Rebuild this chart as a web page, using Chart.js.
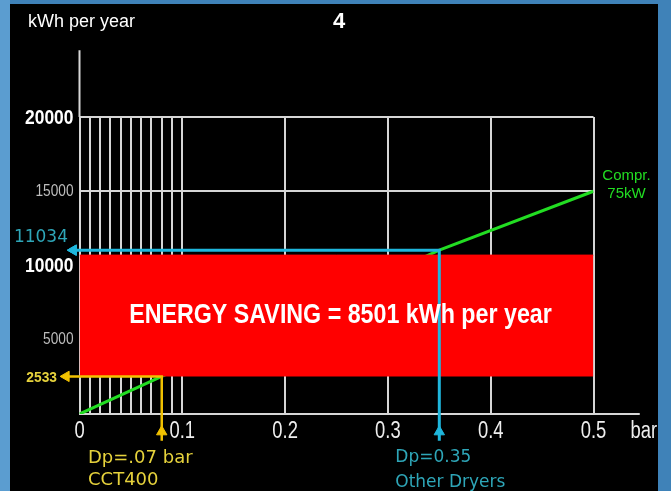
<!DOCTYPE html>
<html>
<head>
<meta charset="utf-8">
<title>Energy saving - kWh per year</title>
<script src="https://cdn.jsdelivr.net/npm/chart.js"></script>
<style>
    body {
        margin: 0;
        padding: 0;
        background: #3f82b8;
    }
    canvas { display: block; }
</style>
</head>
<body>
<canvas id="chart" width="671" height="491"></canvas>
<script>
    // ticks
    var xMajorTicks = [0, 0.1, 0.2, 0.3, 0.4, 0.5];
    var xMinorTicks = [0.01, 0.02, 0.03, 0.04, 0.05, 0.06, 0.07, 0.08, 0.09];
    var yTicks = [5000, 10000, 15000, 20000];

    // compressor 75kW line (middle part is hidden by the saving box)
    var comprLine = [
        {x: 0, y: 0},
        {x: 0.08, y: 2533},
        {x: 0.35, y: 11034},
        {x: 0.5, y: 15000}
    ];

    // other dryers: Dp = 0.35 bar -> 11034 kWh
    var otherDp = 0.35;
    var otherKwh = 11034;
    // CCT400: Dp = .07 bar -> 2533 kWh
    var cctDp = 0.08;
    var cctKwh = 2533;

    // saving box
    var savingX = [0, 0.5];
    var savingTop = 10700;
    var savingBottom = cctKwh;

    var sans = '"Liberation Sans", Arial, sans-serif';
    var plain = '"DejaVu Sans", sans-serif';
    var gridColor = '#d6d6d6';
    var cyan = '#1fb6dc';
    var cyanText = '#2ea6b8';
    var yellow = '#f2c200';
    var yellowText = '#e6d23c';
    var green = '#22dd22';

    // text squeezed horizontally (narrow font look)
    function drawText(c, text, x, y, font, color, align, sx) {
        c.save();
        c.font = font;
        c.fillStyle = color;
        c.textAlign = align;
        c.textBaseline = 'middle';
        c.translate(x, y);
        c.scale(sx || 1, 1);
        c.fillText(text, 0, 0);
        c.restore();
    }

    // background + axis extensions + texts
    var decor = {
        id: 'decor',
        beforeDraw: function (chart) {
            var c = chart.ctx;
            c.save();
            c.fillStyle = '#3f82b8';
            c.fillRect(0, 0, chart.width, chart.height);
            c.fillStyle = '#5b9dd0';
            c.fillRect(0, 0, 10, chart.height);
            c.fillStyle = '#000';
            c.fillRect(10, 4, 648, chart.height);
            c.restore();
        },
        beforeDatasetsDraw: function (chart) {
            var c = chart.ctx, xs = chart.scales.x, ys = chart.scales.y;
            c.save();
            c.strokeStyle = gridColor;
            c.lineWidth = 2;
            c.beginPath();
            c.moveTo(xs.getPixelForValue(0), ys.getPixelForValue(20000));
            c.lineTo(xs.getPixelForValue(0), ys.getPixelForValue(24500));
            c.moveTo(xs.getPixelForValue(0.5), ys.getPixelForValue(0));
            c.lineTo(xs.getPixelForValue(0.545), ys.getPixelForValue(0));
            c.stroke();
            c.restore();
        },
        afterDatasetsDraw: function (chart) {
            // arrow heads lie outside the chart area, Chart.js skips them there
            var full = {left: 0, top: 0, right: chart.width, bottom: chart.height};
            [2, 3].forEach(function (di) {
                chart.getDatasetMeta(di).data.forEach(function (pt) {
                    if (pt.options.radius > 0) pt.draw(chart.ctx, full);
                });
            });
        },
        afterDraw: function (chart) {
            var c = chart.ctx, xs = chart.scales.x, ys = chart.scales.y;

            // tick labels
            xs.ticks.forEach(function (t, i) {
                if (xMajorTicks.indexOf(t.value) < 0) return;
                drawText(c, String(t.value), xs.getPixelForTick(i), ys.bottom + 18,
                    '23px ' + sans, '#eee', 'center', 0.8);
            });
            ys.ticks.forEach(function (t, i) {
                var big = t.value % 10000 === 0;
                drawText(c, String(t.value), xs.left - 6, ys.getPixelForTick(i) + (big ? 1 : 0),
                    big ? 'bold 21px ' + sans : '16.5px ' + sans,
                    big ? '#fff' : '#bdbdbd', 'right', 0.83);
            });
            drawText(c, 'bar', xs.getPixelForValue(0.5) + 37, ys.bottom + 18, '23px ' + sans, '#eee', 'left', 0.8);

            drawText(c, 'kWh per year', 28, 22, '18px ' + sans, '#fff', 'left', 1);
            drawText(c, '4', 339, 22, 'bold 22px ' + sans, '#fff', 'center', 1);

            // saving text
            var cx = (xs.getPixelForValue(savingX[0]) + xs.getPixelForValue(savingX[1])) / 2 + 4;
            var cy = (ys.getPixelForValue(savingTop) + ys.getPixelForValue(savingBottom)) / 2;
            drawText(c, 'ENERGY SAVING = ' + (otherKwh - cctKwh) + ' kWh per year', cx, cy,
                'bold 28px ' + sans, '#fff', 'center', 0.83);

            // compressor label
            var gx = xs.getPixelForValue(0.5) + 33;
            drawText(c, 'Compr.', gx, ys.getPixelForValue(15000) - 15, '15px ' + sans, green, 'center', 1);
            drawText(c, '75kW', gx, ys.getPixelForValue(15000) + 3, '15px ' + sans, green, 'center', 1);

            // cyan labels
            drawText(c, String(otherKwh), 68, ys.getPixelForValue(otherKwh) - 13, '17px ' + plain, cyanText, 'right', 1);
            var ox = xs.getPixelForValue(otherDp) - 44;
            drawText(c, 'Dp=' + otherDp, ox, 458, '17px ' + plain, cyanText, 'left', 1);
            drawText(c, 'Other Dryers', ox, 483, '17px ' + plain, cyanText, 'left', 1);

            // yellow labels
            drawText(c, String(cctKwh), 57, ys.getPixelForValue(cctKwh) + 1, 'bold 15px ' + sans, yellowText, 'right', 0.92);
            drawText(c, 'Dp=.07 bar', 88, 458, '18px ' + plain, yellowText, 'left', 1);
            drawText(c, 'CCT400', 88, 480, '18px ' + plain, yellowText, 'left', 1);
        }
    };

    var ctx = document.getElementById('chart').getContext('2d');
    var chart = new Chart(ctx, {
        type: 'line',
        data: {
            datasets: [{
                label: 'Compr. 75kW',
                data: comprLine,
                borderColor: green,
                borderWidth: 3,
                pointRadius: 0,
                order: 3
            }, {
                label: 'Energy saving',
                data: [{x: savingX[0], y: savingTop}, {x: savingX[1], y: savingTop}],
                borderColor: '#ff0000',
                borderWidth: 1,
                backgroundColor: '#ff0000',
                fill: {value: savingBottom},
                pointRadius: 0,
                order: 2
            }, {
                label: 'Other dryers',
                data: [
                    {x: -0.006, y: otherKwh},
                    {x: otherDp, y: otherKwh},
                    {x: otherDp, y: -1200},
                    {x: otherDp, y: -1800}
                ],
                borderColor: cyan,
                borderWidth: 3,
                pointStyle: 'triangle',
                pointRadius: [6, 0, 6, 0],
                pointRotation: [-90, 0, 0, 0],
                pointBackgroundColor: cyan,
                pointBorderColor: cyan,
                pointBorderWidth: 1,
                clip: false,
                order: 1
            }, {
                label: 'CCT400',
                data: [
                    {x: -0.013, y: cctKwh},
                    {x: cctDp, y: cctKwh},
                    {x: cctDp, y: -1200},
                    {x: cctDp, y: -1800}
                ],
                borderColor: yellow,
                borderWidth: 2.5,
                pointStyle: 'triangle',
                pointRadius: [6, 0, 6, 0],
                pointRotation: [-90, 0, 0, 0],
                pointBackgroundColor: yellow,
                pointBorderColor: yellow,
                pointBorderWidth: 1,
                clip: false,
                order: 0
            }]
        },
        options: {
            responsive: false,
            animation: false,
            devicePixelRatio: 1,
            layout: {padding: {top: 117, left: 0, right: 77.5, bottom: 37}},
            plugins: {
                legend: {display: false},
                tooltip: {enabled: false}
            },
            scales: {
                x: {
                    type: 'linear',
                    min: 0,
                    max: 0.5,
                    afterBuildTicks: function (scale) {
                        scale.ticks = xMajorTicks.concat(xMinorTicks).map(function (v) { return {value: v}; });
                    },
                    afterFit: function (scale) { scale.height = 40; },
                    grid: {color: gridColor, lineWidth: 2, drawTicks: false},
                    border: {color: gridColor, width: 2},
                    ticks: {display: false, autoSkip: false}
                },
                y: {
                    type: 'linear',
                    min: 0,
                    max: 20000,
                    afterBuildTicks: function (scale) {
                        scale.ticks = yTicks.map(function (v) { return {value: v}; });
                    },
                    afterFit: function (scale) { scale.width = 79.5; },
                    grid: {color: gridColor, lineWidth: 2, drawTicks: false},
                    border: {color: gridColor, width: 2},
                    ticks: {display: false}
                }
            }
        },
        plugins: [decor]
    });
</script>
</body>
</html>
